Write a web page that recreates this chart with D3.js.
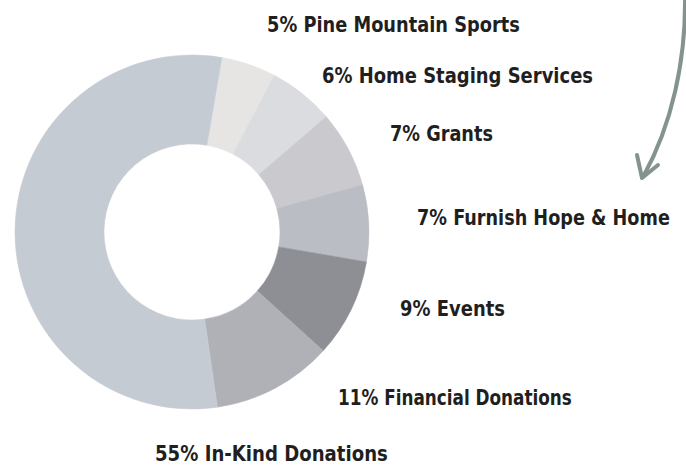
<!DOCTYPE html>
<html>
<head>
<meta charset="utf-8">
<script src="https://cdn.jsdelivr.net/npm/d3@7"></script>
<style>
  html, body { margin: 0; padding: 0; background: #fff; }
  svg { display: block; }
</style>
</head>
<body>
<div id="chart"></div>
<script>
// revenue sources, clockwise from the top
const categories = ["Pine Mountain Sports", "Home Staging Services", "Grants", "Furnish Hope & Home", "Events", "Financial Donations", "In-Kind Donations"];
const shares = [5, 6, 7, 7, 9, 11, 55];
const sliceColors = ["#e7e5e3", "#dadce0", "#cac9cd", "#babdc3", "#8e8f95", "#afb1b7", "#c5cbd2"];

// label anchor (left x, middle y) and measured text width
const labelLayout = [
  [267, 24, 253], [322, 75, 271], [390, 133, 103], [417, 217, 253],
  [400, 308, 105], [338, 397, 234], [155, 453, 233]
];

const width = 686, height = 468;
const cx = 192, cy = 232, outerR = 177, innerR = 88;

const svg = d3.select("#chart").append("svg")
  .attr("width", width)
  .attr("height", height);

const rows = categories.map((c, i) => ({ name: c, value: shares[i], color: sliceColors[i] }));

const pie = d3.pie()
  .sort(null)
  .value(d => d.value)
  .startAngle(0.17)
  .endAngle(0.17 + 2 * Math.PI);

const arc = d3.arc().innerRadius(innerR).outerRadius(outerR);

svg.append("g")
  .attr("transform", `translate(${cx},${cy})`)
  .selectAll("path")
  .data(pie(rows))
  .join("path")
  .attr("d", arc)
  .attr("fill", d => d.data.color)
  .attr("stroke", d => d.data.color)
  .attr("stroke-width", 0.5);

// labels: narrow the bold face to the width seen in the picture
const labels = svg.append("g")
  .selectAll("g")
  .data(rows)
  .join("g");

labels.append("text")
  .attr("dy", "0.36em")
  .attr("font-family", "'DejaVu Sans Condensed', 'DejaVu Sans', sans-serif")
  .attr("font-weight", "bold")
  .attr("font-size", 22)
  .attr("fill", "#1f1f1f")
  .text(d => `${d.value}% ${d.name}`);

labels.attr("transform", function (d, i) {
  const [x, y, w] = labelLayout[i];
  const natural = this.querySelector("text").getComputedTextLength();
  return `translate(${x},${y}) scale(${w / natural},1)`;
});

// curved arrow in the top right corner
const arrow = d3.path();
arrow.moveTo(685, -4);
arrow.bezierCurveTo(686, 60, 672, 125, 643, 177);
svg.append("path")
  .attr("d", arrow.toString())
  .attr("fill", "none")
  .attr("stroke", "#84938f")
  .attr("stroke-width", 4)
  .attr("stroke-linecap", "round");

const head = d3.path();
head.moveTo(637, 155);
head.lineTo(642, 178);
head.lineTo(658, 165);
svg.append("path")
  .attr("d", head.toString())
  .attr("fill", "none")
  .attr("stroke", "#84938f")
  .attr("stroke-width", 4)
  .attr("stroke-linecap", "round")
  .attr("stroke-linejoin", "round");
</script>
</body>
</html>
